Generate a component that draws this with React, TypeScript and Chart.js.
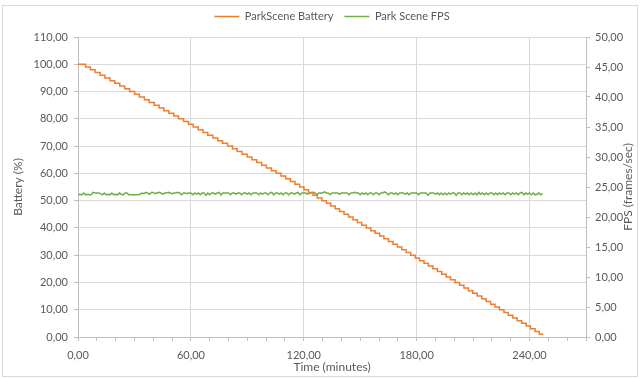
import { useEffect, useRef } from "react";
import { Chart, registerables } from "chart.js";

Chart.register(...registerables);

// ---------------- data ----------------
const legendBattery = "ParkScene Battery";
const legendFps = "Park Scene FPS";
const xTitle = "Time (minutes)";
const yTitle = "Battery (%)";
const y1Title = "FPS (frames/sec)";

const xMin = 0;
const xMax = 270;
const xMinorStep = 10;
const xMajorStep = 60;
const yMin = 0;
const yMax = 110;
const yStep = 10;
const y1Min = 0;
const y1Max = 50;
const y1Step = 5;

// battery level (%) and the minute at which each level starts
const batteryLevels = [
  100, 99, 98, 97, 96, 95, 94, 93, 92, 91,
  90, 89, 88, 87, 86, 85, 84, 83, 82, 81,
  80, 79, 78, 77, 76, 75, 74, 73, 72, 71,
  70, 69, 68, 67, 66, 65, 64, 63, 62, 61,
  60, 59, 58, 57, 56, 55, 54, 53, 52, 51,
  50, 49, 48, 47, 46, 45, 44, 43, 42, 41,
  40, 39, 38, 37, 36, 35, 34, 33, 32, 31,
  30, 29, 28, 27, 26, 25, 24, 23, 22, 21,
  20, 19, 18, 17, 16, 15, 14, 13, 12, 11,
  10, 9, 8, 7, 6, 5, 4, 3, 2, 1,
];
const batteryStartMinutes = [
  0, 4.0, 6.6, 9.1, 11.8, 14.3, 17.0, 19.5, 22.2, 24.8,
  27.4, 30.1, 32.6, 35.3, 37.8, 40.5, 43.1, 45.6, 48.3, 50.9,
  53.4, 56.1, 58.7, 61.2, 63.9, 66.5, 69.0, 71.7, 74.3, 76.8,
  79.5, 82.1, 84.6, 87.2, 89.9, 92.4, 95.0, 97.6, 100.1, 102.8,
  105.3, 107.9, 110.4, 112.9, 115.3, 117.8, 120.1, 122.5, 124.9, 127.2,
  129.6, 132.0, 134.3, 136.7, 139.0, 141.4, 143.8, 146.1, 148.5, 150.8,
  153.2, 155.6, 157.9, 160.3, 162.6, 165.0, 167.4, 169.7, 172.1, 174.4,
  176.8, 179.2, 181.5, 183.9, 186.2, 188.6, 191.0, 193.3, 195.7, 198.0,
  200.4, 202.8, 205.1, 207.5, 209.8, 212.2, 214.6, 216.9, 219.3, 221.6,
  224.0, 226.4, 228.7, 231.1, 233.4, 235.8, 238.2, 240.5, 242.9, 245.2,
];
const batteryEndMinute = 247.3;
const batteryEndLevel = 1;

// FPS sampled once per minute from minute 0
const fpsStartMinute = 0;
const fpsIntervalMinutes = 1;
const fpsValues = [
  23.7, 23.8, 23.7, 24.0, 23.7, 23.8, 23.7, 23.7, 24.1, 24.0,
  24.0, 24.0, 23.9, 23.7, 24.0, 23.7, 23.8, 23.7, 24.0, 23.7,
  23.8, 23.7, 24.0, 23.8, 23.7, 24.0, 24.0, 23.7, 23.7, 23.7,
  23.7, 23.7, 23.7, 23.8, 24.0, 23.9, 24.1, 24.0, 23.8, 24.1,
  24.1, 23.9, 24.0, 24.1, 24.0, 23.8, 24.0, 24.0, 24.1, 24.0,
  23.9, 24.0, 24.0, 24.1, 24.0, 23.7, 24.0, 24.0, 23.9, 24.0,
  24.0, 23.7, 24.0, 23.8, 24.0, 23.7, 24.0, 24.0, 23.6, 24.0,
  23.7, 24.0, 24.0, 23.8, 24.0, 24.1, 23.7, 24.0, 24.0, 24.0,
  24.0, 23.7, 24.0, 24.0, 23.8, 24.0, 24.0, 23.7, 24.0, 24.0,
  23.8, 24.0, 23.7, 24.0, 24.0, 24.0, 23.7, 24.0, 23.8, 24.0,
  24.0, 23.7, 24.0, 24.1, 23.7, 24.0, 24.0, 23.8, 24.0, 23.7,
  24.0, 24.0, 23.7, 24.0, 24.0, 23.8, 24.0, 24.1, 23.7, 24.0,
  24.0, 24.0, 23.8, 24.0, 24.0, 24.1, 24.0, 23.7, 24.0, 24.0,
  24.0, 24.2, 24.0, 24.0, 23.7, 24.0, 24.0, 24.0, 24.0, 23.8,
  24.0, 24.0, 24.0, 24.0, 23.7, 24.0, 24.0, 24.1, 24.0, 24.0,
  23.7, 24.0, 23.8, 24.0, 23.7, 24.0, 24.0, 23.7, 24.0, 24.0,
  23.7, 24.0, 24.0, 24.2, 24.0, 23.7, 24.0, 24.0, 23.8, 24.0,
  23.7, 24.0, 24.0, 24.0, 23.8, 24.0, 23.7, 24.0, 24.0, 24.0,
  24.0, 23.7, 24.0, 24.0, 24.0, 24.0, 23.6, 24.0, 24.0, 24.0,
  23.8, 24.0, 23.7, 24.0, 23.7, 24.0, 23.7, 24.0, 23.8, 24.0,
  24.0, 23.6, 24.0, 24.0, 23.7, 24.0, 23.8, 24.0, 23.7, 24.0,
  23.7, 24.0, 23.7, 24.1, 23.8, 24.0, 23.7, 24.0, 23.7, 24.0,
  24.0, 23.7, 24.0, 23.7, 24.0, 23.8, 24.0, 23.7, 24.0, 24.0,
  23.7, 24.0, 23.8, 24.0, 23.7, 24.0, 24.1, 23.7, 24.0, 23.8,
  24.0, 23.7, 24.0, 23.7, 23.8, 24.0, 23.7, 23.9,
];

// ---------------- styles ----------------
const FONT = 'Lato, "Open Sans", sans-serif';
const TEXT = "#595959";
const GRID = "#d9d9d9";
const AXIS = "#bfbfbf";
const ORANGE = "#ED7D31";
const GREEN = "#70AD47";

const fmt = (v: number) => Number(v).toFixed(2).replace(".", ",");

export default function App() {
  const ref = useRef<HTMLCanvasElement>(null);

  useEffect(() => {
    const canvas = ref.current;
    if (!canvas) return;

    const batteryData = batteryLevels.map((lv, i) => ({ x: batteryStartMinutes[i], y: lv }));
    batteryData.push({ x: batteryEndMinute, y: batteryEndLevel });
    const fpsData = fpsValues.map((v, i) => ({ x: fpsStartMinute + i * fpsIntervalMinutes, y: v }));

    const legendHeightPlugin = {
      id: "legendHeight",
      beforeLayout(chart: any) {
        const lg = chart.legend;
        if (lg && !lg.__patched) {
          const orig = lg.fit.bind(lg);
          lg.fit = function () {
            orig();
            this.height = 37;
          };
          lg.__patched = true;
        }
      },
    };

    const rightTitlePlugin = {
      id: "rightTitle",
      afterDraw(chart: any) {
        const { ctx, chartArea } = chart;
        const s = chart.scales.y1;
        ctx.save();
        ctx.translate(s.right - 13, (chartArea.top + chartArea.bottom) / 2);
        ctx.rotate(-Math.PI / 2);
        ctx.font = `12px ${FONT}`;
        ctx.fillStyle = TEXT;
        ctx.textAlign = "center";
        ctx.textBaseline = "middle";
        ctx.fillText(y1Title, 0, 0);
        ctx.restore();
      },
    };

    const chart = new Chart(canvas, {
      type: "line",
      data: {
        datasets: [
          {
            label: legendBattery,
            data: batteryData,
            borderColor: ORANGE,
            backgroundColor: ORANGE,
            borderWidth: 1.5,
            pointRadius: 0,
            stepped: "before",
            yAxisID: "y",
          },
          {
            label: legendFps,
            data: fpsData,
            borderColor: GREEN,
            backgroundColor: GREEN,
            borderWidth: 1.5,
            pointRadius: 0,
            tension: 0,
            yAxisID: "y1",
          },
        ],
      },
      options: {
        responsive: false,
        animation: false,
        layout: { padding: 0 },
        plugins: {
          tooltip: { enabled: false },
          legend: {
            position: "top",
            fullSize: false,
            labels: {
              usePointStyle: true,
              pointStyle: "line",
              pointStyleWidth: 25,
              padding: 11,
              color: TEXT,
              font: { family: FONT, size: 11 },
            },
          },
        },
        scales: {
          x: {
            type: "linear",
            min: xMin,
            max: xMax,
            afterFit: (s: any) => {
              s.height = 42;
            },
            ticks: {
              stepSize: xMinorStep,
              autoSkip: false,
              maxRotation: 0,
              padding: 8,
              color: TEXT,
              font: { family: FONT, size: 11 },
              callback: (v: any) => (Number(v) % xMajorStep === 0 ? fmt(Number(v)) : ""),
            },
            grid: {
              color: (c: any) => (c.tick && c.tick.value % xMajorStep === 0 && c.tick.value !== xMin ? GRID : "rgba(0,0,0,0)"),
              tickColor: AXIS,
              tickLength: 4,
            },
            border: { color: AXIS },
            title: {
              display: true,
              text: xTitle,
              color: TEXT,
              font: { family: FONT, size: 12 },
              padding: { top: 0, bottom: 5 },
            },
          },
          y: {
            type: "linear",
            position: "left",
            min: yMin,
            max: yMax,
            afterFit: (s: any) => {
              s.width = 78;
            },
            ticks: {
              stepSize: yStep,
              padding: 6,
              color: TEXT,
              font: { family: FONT, size: 11 },
              callback: (v: any) => fmt(Number(v)),
            },
            grid: { color: GRID, tickColor: AXIS, tickLength: 4 },
            border: { color: AXIS },
            title: {
              display: true,
              text: yTitle,
              color: TEXT,
              font: { family: FONT, size: 12 },
              padding: { top: 11, bottom: 0 },
            },
          },
          y1: {
            type: "linear",
            position: "right",
            min: y1Min,
            max: y1Max,
            afterFit: (s: any) => {
              s.width = 55;
            },
            ticks: {
              stepSize: y1Step,
              padding: 5,
              color: TEXT,
              font: { family: FONT, size: 11 },
              callback: (v: any) => fmt(Number(v)),
            },
            grid: { drawOnChartArea: false, color: AXIS, tickColor: AXIS, tickLength: 4 },
            border: { color: AXIS },
          },
        },
      },
      plugins: [legendHeightPlugin, rightTitlePlugin],
    } as any);

    return () => chart.destroy();
  }, []);

  return (
    <div style={{ position: "fixed", left: 0, top: 0, width: 641, height: 379, background: "#fff" }}>
      <div
        style={{
          position: "absolute",
          left: 2,
          top: 5,
          width: 636,
          height: 372,
          border: `1px solid ${GRID}`,
          boxSizing: "border-box",
        }}
      />
      <canvas ref={ref} width={641} height={379} style={{ position: "absolute", left: 0, top: 0 }} />
    </div>
  );
}
